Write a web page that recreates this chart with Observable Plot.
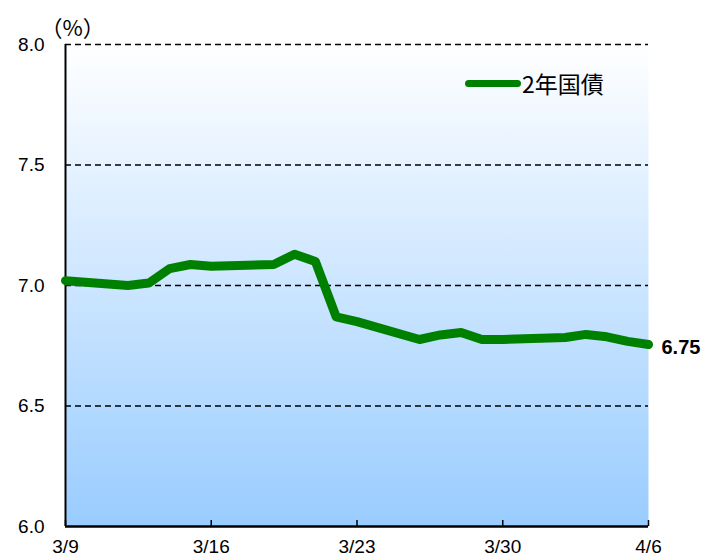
<!DOCTYPE html>
<html><head><meta charset="utf-8">
<script src="https://cdn.jsdelivr.net/npm/d3@7"></script>
<script src="https://cdn.jsdelivr.net/npm/@observablehq/plot@0.6"></script>
<style>
html,body{margin:0;padding:0;background:#fff;}
#wrap{position:relative;width:715px;height:559px;font-family:"Noto Sans CJK JP",sans-serif;}
#legend{position:absolute;left:465px;top:69px;display:flex;align-items:center;font-size:23px;line-height:28px;color:#000;}
#legend .sw{width:56px;height:7px;border-radius:4px;background:#008000;margin-right:1px;}
</style></head>
<body><div id="wrap"><div id="legend"><span class="sw"></span><span id="legendText"></span></div></div>
<script>
const dates = ["2012-03-09","2012-03-12","2012-03-13","2012-03-14","2012-03-15","2012-03-16","2012-03-19","2012-03-20","2012-03-21","2012-03-22","2012-03-23","2012-03-26","2012-03-27","2012-03-28","2012-03-29","2012-03-30","2012-04-02","2012-04-03","2012-04-04","2012-04-05","2012-04-06"];
const values = [7.02,7.00,7.01,7.07,7.087,7.08,7.087,7.13,7.10,6.87,6.85,6.776,6.795,6.805,6.776,6.776,6.784,6.797,6.787,6.768,6.755];
const tickDates = ["2012-03-09","2012-03-16","2012-03-23","2012-03-30","2012-04-06"];
const yTicks = [6.0,6.5,7.0,7.5,8.0];
const seriesName = "2年国債";
const lastLabel = "6.75";
const unitLabel = "（%）";

document.getElementById("legendText").textContent = seriesName;
const data = dates.map((d,i)=>({date:new Date(d+"T00:00:00Z"), value:values[i]}));
const ticks = tickDates.map(d=>new Date(d+"T00:00:00Z"));
const last = data[data.length-1];
const numFont = '"Liberation Sans", Arial, sans-serif';

const plot = Plot.plot({
  width:715, height:559,
  marginLeft:65, marginRight:67, marginTop:44, marginBottom:33,
  style:{fontFamily:numFont, fontSize:"19px", color:"#000", background:"transparent"},
  x:{type:"utc", domain:[ticks[0], ticks[ticks.length-1]], label:null},
  y:{domain:[6,8], label:null},
  marks:[
    Plot.frame({fill:"url(#bgGrad)", stroke:"none"}),
    Plot.ruleY(yTicks.filter(v=>v>6), {stroke:"#000", strokeWidth:1.3, strokeDasharray:"6,4"}),
    Plot.axisY({ticks:yTicks, tickSize:0, tickPadding:21, tickFormat:d=>d.toFixed(1), fontSize:19, label:null}),
    Plot.axisX({ticks:ticks, tickSize:0, tickPadding:13, tickFormat:d=>`${d.getUTCMonth()+1}/${d.getUTCDate()}`, fontSize:19, label:null}),
    Plot.ruleX(ticks, {x:d=>d, y1:6, y2:6, insetTop:-6, stroke:"#000", strokeWidth:1.5}),
    Plot.ruleX([ticks[0]], {stroke:"#000", strokeWidth:2}),
    Plot.ruleY([6], {stroke:"#000", strokeWidth:2.5}),
    Plot.line(data, {x:"date", y:"value", stroke:"#008000", strokeWidth:9, strokeLinejoin:"round"}),
    Plot.text([last], {x:"date", y:"value", text:()=>lastLabel, dx:13, dy:3.5, textAnchor:"start", fontWeight:"bold", fontSize:20, fontFamily:numFont}),
    Plot.text([unitLabel], {frameAnchor:"top-left", dx:7, dy:-24, fontSize:22, textAnchor:"middle", fontFamily:'"Noto Sans CJK JP", sans-serif'})
  ]
});
const ns="http://www.w3.org/2000/svg";
const defs=document.createElementNS(ns,"defs");
defs.innerHTML='<linearGradient id="bgGrad" x1="0" y1="0" x2="0" y2="1"><stop offset="0" stop-color="#ffffff"/><stop offset="1" stop-color="#99ccff"/></linearGradient>';
plot.insertBefore(defs, plot.firstChild);
document.getElementById("wrap").insertBefore(plot, document.getElementById("legend"));
plot.style.position="absolute"; plot.style.left="0"; plot.style.top="0";
</script></body></html>
